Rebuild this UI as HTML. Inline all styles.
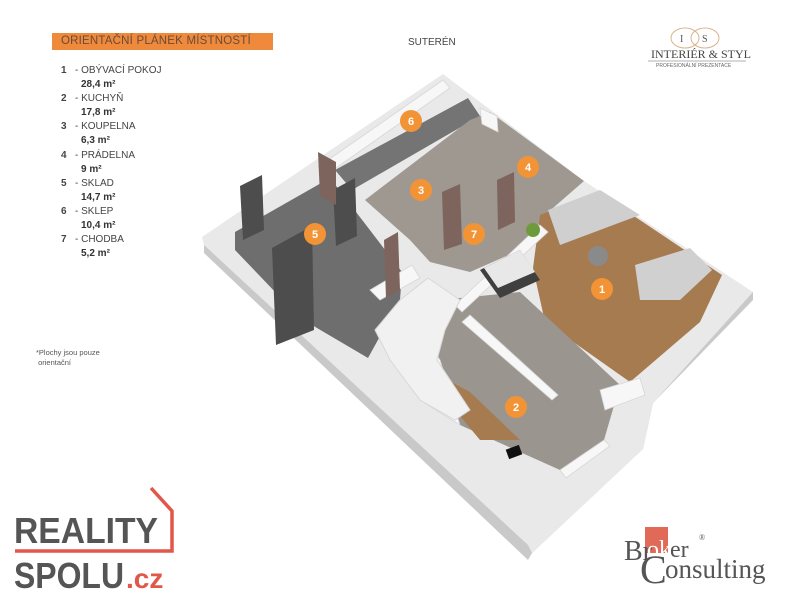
<!DOCTYPE html>
<html><head><meta charset="utf-8"><style>
html,body{margin:0;padding:0;background:#fff;}
body{width:800px;height:600px;position:relative;overflow:hidden;font-family:"Liberation Sans",sans-serif;}
.bar{position:absolute;left:52px;top:33px;width:221px;height:17px;background:#ef8a3c;color:#6a4a38;font-size:11.5px;line-height:17px;padding-left:9px;box-sizing:border-box;letter-spacing:0.2px}
.leg{position:absolute;left:61px;top:64px;font-size:10px;color:#444;line-height:14.1px}
.leg div{white-space:nowrap}
.leg b{display:inline-block;width:14px}
.leg .a{padding-left:20px;font-weight:bold;color:#333}
</style></head><body>
<div class="bar">ORIENTAČNÍ PLÁNEK MÍSTNOSTÍ</div>
<div class="leg">
<div><b>1</b>- OBÝVACÍ POKOJ</div><div class="a">28,4 m²</div>
<div><b>2</b>- KUCHYŇ</div><div class="a">17,8 m²</div>
<div><b>3</b>- KOUPELNA</div><div class="a">6,3 m²</div>
<div><b>4</b>- PRÁDELNA</div><div class="a">9 m²</div>
<div><b>5</b>- SKLAD</div><div class="a">14,7 m²</div>
<div><b>6</b>- SKLEP</div><div class="a">10,4 m²</div>
<div><b>7</b>- CHODBA</div><div class="a">5,2 m²</div>
</div>
<div style="position:absolute;left:408px;top:37px;font-size:10px;color:#444">SUTERÉN</div>
<div style="position:absolute;left:36px;top:348px;font-size:7.5px;color:#555;line-height:10px">*Plochy jsou pouze<br>&nbsp;orientační</div>

<svg width="800" height="600" style="position:absolute;left:0;top:0">
<g fill="none" stroke="#d9b48a" stroke-width="1">
<ellipse cx="685" cy="38" rx="14" ry="10"/><ellipse cx="705" cy="38" rx="14" ry="10"/></g>
<text x="680" y="42" font-family="Liberation Serif" font-size="10" fill="#555">I</text>
<text x="702" y="42" font-family="Liberation Serif" font-size="10" fill="#555">S</text>
<text x="651" y="58" font-family="Liberation Serif" font-size="12" fill="#444">INTERIÉR &amp; STYL</text>
<line x1="648" y1="61" x2="746" y2="61" stroke="#666" stroke-width="0.6"/>
<text x="656" y="67" font-family="Liberation Sans" font-size="5" fill="#666">PROFESIONÁLNÍ PREZENTACE</text>

<polygon points="204,253 528,560 532,553 643,449 653,403 753,300 753,292 204,237" fill="#c9c9c9"/>
<polygon points="202,237 443,74 496,114 584,181 753,292 653,403 643,449 532,553 528,545 204,245" fill="#e9e9e9"/>
<polygon points="235,232 330,178 402,272 400,300 368,358 300,318 235,250" fill="#6e6e6e"/>
<polygon points="335,170 468,98 480,116 352,190" fill="#747474"/>
<polygon points="365,200 470,120 490,112 584,181 545,215 520,250 470,272 430,262 410,240" fill="#9e9891"/>
<polygon points="540,215 598,192 722,275 700,322 630,382 545,322 533,268" fill="#a57b4f"/>
<polygon points="440,300 520,292 620,385 604,440 560,470 460,425 438,360" fill="#9b958f"/>
<polygon points="438,375 470,392 520,440 480,440 455,410" fill="#a57b4f"/>
<g fill="#f7f7f7" stroke="#d6d6d6" stroke-width="0.8">
<polygon points="318,167 443,80 450,88 326,175"/>
<polygon points="480,108 497,116 498,132 482,124"/>
<polygon points="455,305 540,225 548,232 462,312"/>
<polygon points="470,315 558,395 552,400 462,322"/>
<polygon points="560,470 604,440 610,446 566,478"/>
<polygon points="370,290 412,265 420,278 380,300"/>
<polygon points="420,330 440,360 460,425 420,400"/>
<polygon points="600,390 640,378 645,395 605,410"/>
</g>
<polygon points="375,330 400,300 428,278 460,300 445,330 437,360 470,410 455,420 420,400 390,360" fill="#f1f1f1" stroke="#d8d8d8"/>
<polygon points="548,210 600,190 640,215 600,230 560,245" fill="#cfcfcf"/>
<polygon points="635,265 690,248 712,270 680,300 640,300" fill="#d0d0d0"/>
<circle cx="598" cy="256" r="10" fill="#8a8a8a"/>
<polygon points="480,270 520,250 540,280 500,298" fill="#3f3f3f"/>
<polygon points="484,268 520,250 535,272 498,288" fill="#e8e8e8"/>
<g fill="#4d4d4d">
<polygon points="240,186 262,175 264,230 243,240"/>
<polygon points="272,248 312,226 314,330 276,345"/>
<polygon points="333,190 355,178 357,236 336,246"/>
</g>
<g fill="#7d655d">
<polygon points="318,152 336,162 336,205 320,196"/>
<polygon points="442,192 460,184 462,244 444,250"/>
<polygon points="497,180 514,172 515,222 498,230"/>
<polygon points="384,240 398,232 400,290 386,298"/>
</g>
<circle cx="533" cy="230" r="7" fill="#6d9a3a"/>
<rect x="507" y="447" width="14" height="10" fill="#111" transform="rotate(-20 514 452)"/>
<g font-family="Liberation Sans" font-size="11" font-weight="bold" fill="#fff" text-anchor="middle">
<circle cx="411" cy="121" r="11" fill="#f29436"/><text x="411" y="125">6</text>
<circle cx="528" cy="167" r="11" fill="#f29436"/><text x="528" y="171">4</text>
<circle cx="421" cy="190" r="11" fill="#f29436"/><text x="421" y="194">3</text>
<circle cx="315" cy="234" r="11" fill="#f29436"/><text x="315" y="238">5</text>
<circle cx="474" cy="234" r="11" fill="#f29436"/><text x="474" y="238">7</text>
<circle cx="602" cy="289" r="11" fill="#f29436"/><text x="602" y="293">1</text>
<circle cx="516" cy="407" r="11" fill="#f29436"/><text x="516" y="411">2</text>
</g>
<polyline points="151,488 172,511 172,551 15,551" fill="none" stroke="#e1574a" stroke-width="3.5"/>
<text x="14" y="543" font-family="Liberation Sans" font-weight="bold" font-size="36" fill="#555" textLength="144" lengthAdjust="spacingAndGlyphs">REALITY</text>
<text x="14" y="588" font-family="Liberation Sans" font-weight="bold" font-size="36" fill="#555" textLength="110" lengthAdjust="spacingAndGlyphs">SPOLU</text>
<text x="126" y="588" font-family="Liberation Sans" font-weight="bold" font-size="28" fill="#e1574a">.cz</text>
<rect x="645" y="527" width="23" height="26" fill="#e06a57"/>
<text x="624" y="560" font-family="Liberation Serif" font-size="28" fill="#555">Br</text>
<text x="647" y="557" font-family="Liberation Serif" font-size="24" fill="#fff">ok</text>
<text x="670" y="557" font-family="Liberation Serif" font-size="24" fill="#555">er</text>
<text x="699" y="540" font-family="Liberation Serif" font-size="8" fill="#555">®</text>
<text x="640" y="583" font-family="Liberation Serif" font-size="40" fill="#555">C</text>
<text x="665" y="578" font-family="Liberation Serif" font-size="27" fill="#555">onsulting</text>
</svg>
</body></html>
